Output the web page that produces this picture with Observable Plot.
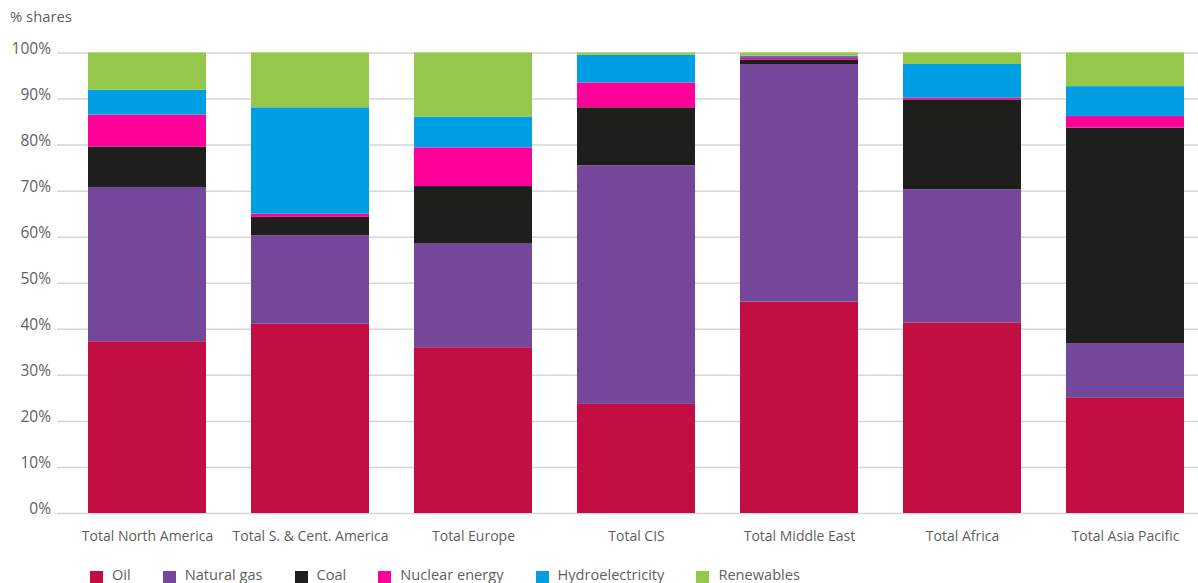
<!DOCTYPE html>
<html>
<head>
<meta charset="utf-8">
<script src="https://cdn.jsdelivr.net/npm/d3@7"></script>
<script src="https://cdn.jsdelivr.net/npm/@observablehq/plot@0.6"></script>
<style>
  html, body { margin: 0; padding: 0; background: #fff; }
  body { width: 1198px; height: 583px; overflow: hidden; font-family: "Open Sans", sans-serif; color: #5f5f5f; }
  #title { height: 36px; box-sizing: border-box; padding: 7px 0 0 10px; font-size: 14.8px; line-height: 19px; }
  #chart svg { display: block; }
  #legend { display: flex; padding: 11px 0 0 90px; font-size: 14.6px; line-height: 20px; }
  .item { display: flex; align-items: flex-start; margin-right: 32px; }
  .sw { width: 13px; height: 13px; margin-top: 7px; margin-right: 9px; }
</style>
</head>
<body>
<div id="title">% shares</div>
<div id="chart"></div>
<div id="legend"></div>
<script>
const regions = ["Total North America", "Total S. & Cent. America", "Total Europe", "Total CIS", "Total Middle East", "Total Africa", "Total Asia Pacific"];
const fuels = ["Oil", "Natural gas", "Coal", "Nuclear energy", "Hydroelectricity", "Renewables"];
const colors = ["#c20e43", "#75479b", "#1e1e1c", "#ff0099", "#009fe3", "#95c74b"];
const oil = [37.3, 41.1, 36.0, 23.7, 45.9, 41.4, 25.0];
const gas = [33.5, 19.2, 22.5, 51.8, 51.6, 28.9, 11.9];
const coal = [8.8, 4.0, 12.5, 12.6, 1.0, 19.5, 46.8];
const nuclear = [6.9, 0.7, 8.4, 5.4, 0.5, 0.4, 2.5];
const hydro = [5.4, 23.1, 6.7, 6.0, 0.3, 7.3, 6.5];
const renewables = [8.1, 11.9, 13.9, 0.5, 0.7, 2.5, 7.3];
const yTicks = [0, 10, 20, 30, 40, 50, 60, 70, 80, 90, 100];

const series = [oil, gas, coal, nuclear, hydro, renewables];
const data = [];
series.forEach((vals, f) => vals.forEach((v, i) => data.push({region: regions[i], fuel: fuels[f], value: v})));

const chart = Plot.plot({
  width: 1198,
  height: 517,
  marginTop: 16.5,
  marginBottom: 40,
  marginLeft: 57,
  marginRight: 0,
  style: {fontFamily: "Open Sans", fontSize: "14px", color: "#5f5f5f", background: "#fff"},
  x: {domain: regions, paddingInner: 0.276, paddingOuter: 0.138, align: 0.69},
  y: {domain: [0, 100]},
  color: {domain: fuels, range: colors},
  marks: [
    Plot.ruleY(yTicks, {stroke: "#d6d6d6", strokeWidth: 1.5}),
    Plot.barY(data, Plot.stackY({x: "region", y: "value", fill: "fuel", order: fuels, inset: 0})),
    Plot.axisY({ticks: yTicks, tickSize: 0, tickPadding: 6.5, dy: -4, fontSize: 15.5, tickFormat: d => d + "%", label: null}),
    Plot.axisX({tickSize: 0, tickPadding: 17.5, label: null})
  ]
});
document.getElementById("chart").appendChild(chart);

const legend = document.getElementById("legend");
fuels.forEach((f, i) => {
  const it = document.createElement("div");
  it.className = "item";
  const sw = document.createElement("div");
  sw.className = "sw";
  sw.style.background = colors[i];
  const t = document.createElement("span");
  t.textContent = f;
  it.appendChild(sw);
  it.appendChild(t);
  legend.appendChild(it);
});
</script>
</body>
</html>
